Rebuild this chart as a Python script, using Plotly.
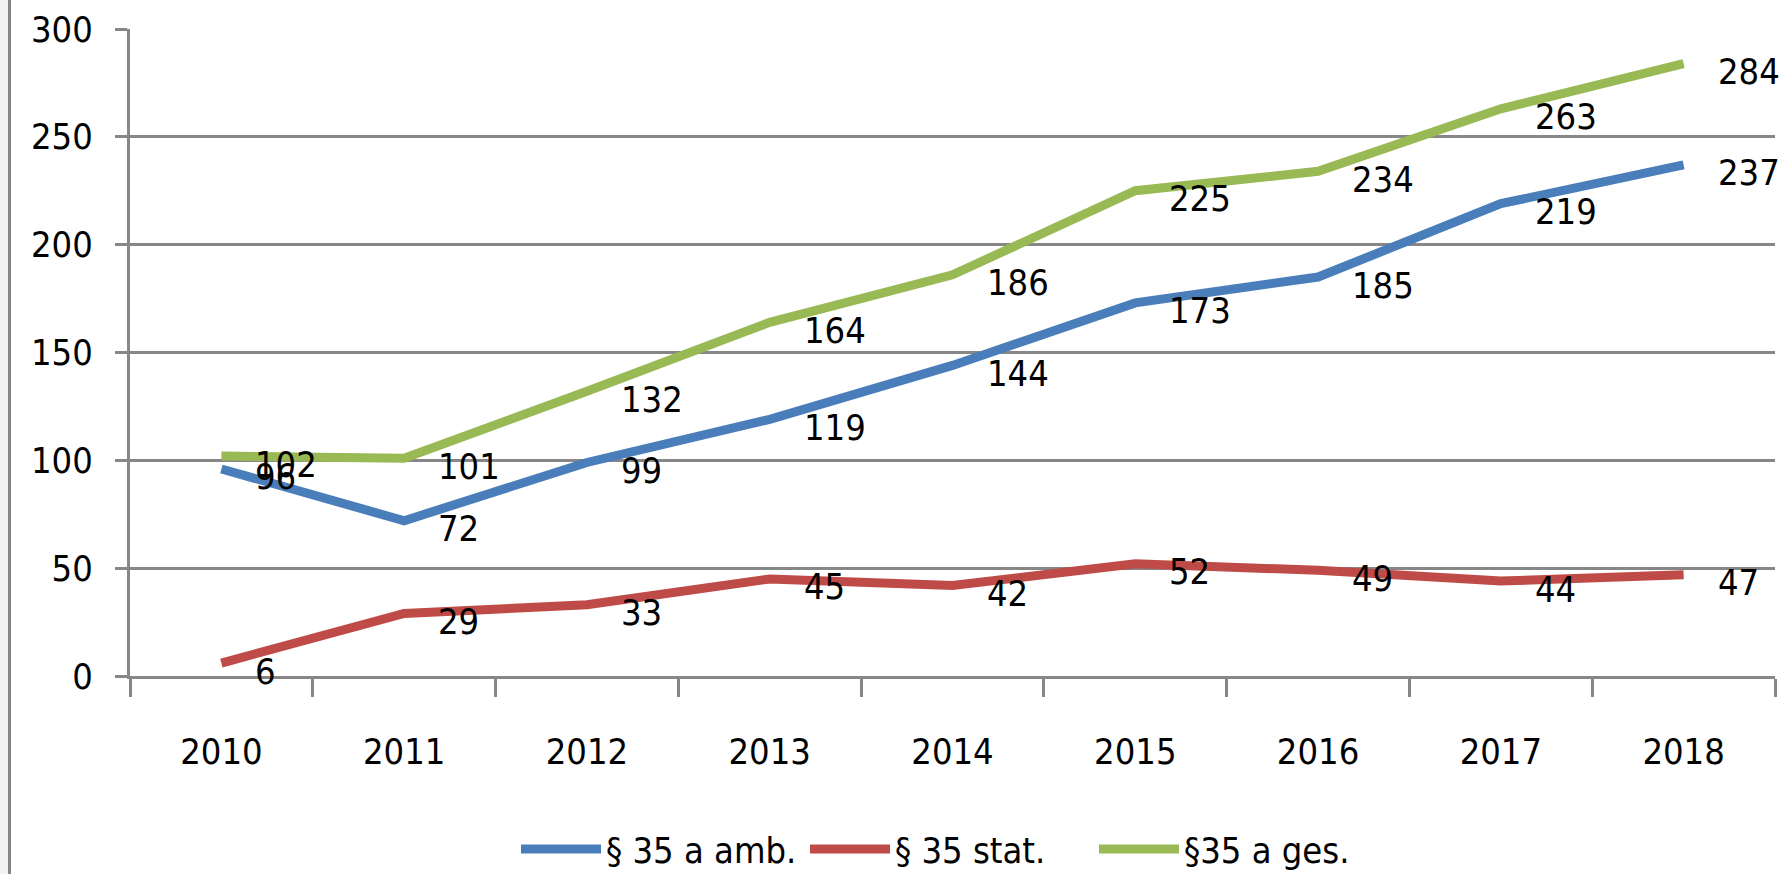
import plotly.graph_objects as go

years = ["2010", "2011", "2012", "2013", "2014", "2015", "2016", "2017", "2018"]
amb = [96, 72, 99, 119, 144, 173, 185, 219, 237]
stat = [6, 29, 33, 45, 42, 52, 49, 44, 47]
ges = [102, 101, 132, 164, 186, 225, 234, 263, 284]
names = ["§ 35 a amb.", "§ 35 stat.", "§35 a ges."]
colors = ["#4a7ebb", "#be4b48", "#98b954"]
series = [amb, stat, ges]

FONT = "DejaVu Sans Condensed, Liberation Sans Narrow, sans-serif"
GRID = "#878787"
FS = 36

W, H = 1787, 874
L, R, T, B = 130, 12, 29, 198
pw = W - L - R
ph = H - T - B

fig = go.Figure()
for nm, vals, col in zip(names, series, colors):
    fig.add_trace(go.Scatter(x=years, y=vals, name=nm, mode="lines",
                             line=dict(color=col, width=9)))

annotations = []
for vals in series:
    for i, v in enumerate(vals):
        annotations.append(dict(x=i, y=v, xref="x", yref="y", text=str(v), showarrow=False,
                                xanchor="left", yanchor="middle",
                                xshift=32, yshift=-8,
                                font=dict(family=FONT, size=FS, color="black")))

def px_x(p):
    return (p - L) / pw

def px_y(p):
    return (H - B - p) / ph

shapes = [
    dict(type="rect", xref="paper", yref="paper", x0=px_x(0), x1=px_x(8),
         y0=px_y(H), y1=px_y(0), fillcolor="#f2f2f2", line=dict(width=0), layer="below"),
    dict(type="line", xref="paper", yref="paper", x0=px_x(9.5), x1=px_x(9.5),
         y0=px_y(H), y1=px_y(0), line=dict(color=GRID, width=3)),
]

fig.update_layout(
    width=W, height=H,
    margin=dict(l=L, r=R, t=T, b=B, pad=0, autoexpand=False),
    paper_bgcolor="white", plot_bgcolor="white",
    font=dict(family=FONT, size=FS, color="black"),
    showlegend=True,
    legend=dict(orientation="h", x=px_x(516), xanchor="left", y=px_y(849), yanchor="middle",
                font=dict(family=FONT, size=FS, color="black"),
                itemwidth=80, entrywidth=194, entrywidthmode="pixels",
                traceorder="normal"),
    annotations=annotations,
    shapes=shapes,
)
fig.update_xaxes(type="category", range=[-0.5, 8.5], autorange=False,
                 showgrid=False, showline=True, linecolor=GRID, linewidth=3,
                 ticks="outside", tickson="boundaries", ticklen=18, tickwidth=3, tickcolor=GRID,
                 ticklabelstandoff=42, tickangle=0,
                 tickfont=dict(family=FONT, size=FS, color="black"))
fig.update_yaxes(range=[0, 300], dtick=50, showgrid=True, gridcolor=GRID, gridwidth=3,
                 zeroline=False, showline=True, linecolor=GRID, linewidth=3,
                 ticks="outside", ticklen=12, tickwidth=3, tickcolor=GRID,
                 ticklabelstandoff=15, tickfont=dict(family=FONT, size=FS, color="black"))

fig.write_html("out.html", config={"displayModeBar": False},
               post_script="document.body.style.margin='0';")
